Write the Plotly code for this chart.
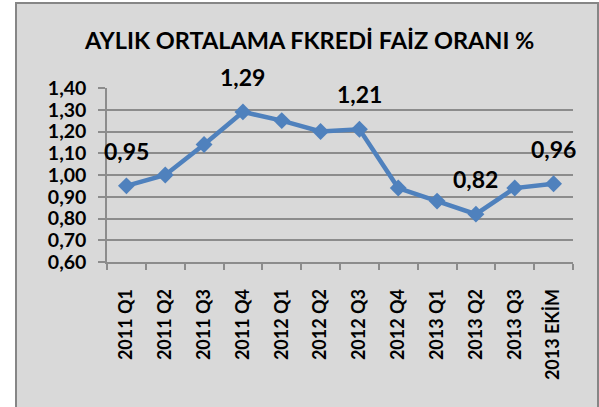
import plotly.graph_objects as go

categories = ["2011 Q1", "2011 Q2", "2011 Q3", "2011 Q4", "2012 Q1", "2012 Q2",
              "2012 Q3", "2012 Q4", "2013 Q1", "2013 Q2", "2013 Q3", "2013 EKİM"]
values = [0.95, 1.00, 1.14, 1.29, 1.25, 1.20, 1.21, 0.94, 0.88, 0.82, 0.94, 0.96]
labeled_idx = [0, 3, 6, 9, 11]
title_text = "AYLIK ORTALAMA FKREDİ FAİZ ORANI %"
y_ticks = [0.6, 0.7, 0.8, 0.9, 1.0, 1.1, 1.2, 1.3, 1.4]

W, H = 599, 407
L, R, T, B = 107, 26, 88, 145
pw, ph = W - L - R, H - T - B

def px(x):
    return (x - L) / pw

def py(y):
    return (H - B - y) / ph

FONT = "Lato, 'DejaVu Sans', sans-serif"
BLUE = "#4F81BD"
GRID = "#8C8C8C"

fig = go.Figure()
fig.add_trace(go.Scatter(
    x=categories, y=values, mode="lines+markers",
    line=dict(color=BLUE, width=4.5),
    marker=dict(symbol="diamond", size=13, color=BLUE),
    hoverinfo="x+y", showlegend=False,
))

annotations = []
for i in labeled_idx:
    annotations.append(dict(
        x=categories[i], y=values[i], xref="x", yref="y",
        text=f"{values[i]:.2f}".replace(".", ","), showarrow=False,
        yshift=35, font=dict(family=FONT, size=23, color="black", weight="bold"),
    ))
annotations.append(dict(
    x=px(309), y=py(40), xref="paper", yref="paper", xanchor="center", yanchor="middle",
    text=title_text, showarrow=False,
    font=dict(family=FONT, size=23.5, color="black", weight="bold"),
))

shapes = [dict(
    type="rect", xref="paper", yref="paper", layer="below",
    x0=px(16), x1=px(598), y0=py(3), y1=py(430),
    fillcolor="#D9D9D9", line=dict(color="#868686", width=2),
)]

fig.update_layout(
    width=W, height=H, margin=dict(l=L, r=R, t=T, b=B, autoexpand=False),
    paper_bgcolor="white", plot_bgcolor="rgba(0,0,0,0)",
    separators=",.",
    annotations=annotations, shapes=shapes,
    xaxis=dict(
        type="category", showgrid=False, showline=True, linecolor=GRID, linewidth=1.5,
        ticks="outside", tickson="boundaries", ticklen=6, tickcolor=GRID, tickwidth=1.5,
        tickangle=-90, ticklabelstandoff=18,
        tickfont=dict(family=FONT, size=18, color="black", weight="bold"),
        range=[-0.5, len(categories) - 0.5],
    ),
    yaxis=dict(
        range=[0.6, 1.4], tickvals=y_ticks, tickformat=".2f",
        showgrid=True, gridcolor=GRID, gridwidth=1.5,
        showline=True, linecolor=GRID, linewidth=1.5,
        ticks="outside", ticklen=7, tickcolor=GRID, tickwidth=1.5,
        ticklabelstandoff=8,
        tickfont=dict(family=FONT, size=19.5, color="black", weight="bold"),
        zeroline=False,
    ),
)

fig.write_html(
    "out.html",
    config={"displayModeBar": False},
    post_script="document.body.style.margin='0';document.body.style.overflow='hidden';",
)
